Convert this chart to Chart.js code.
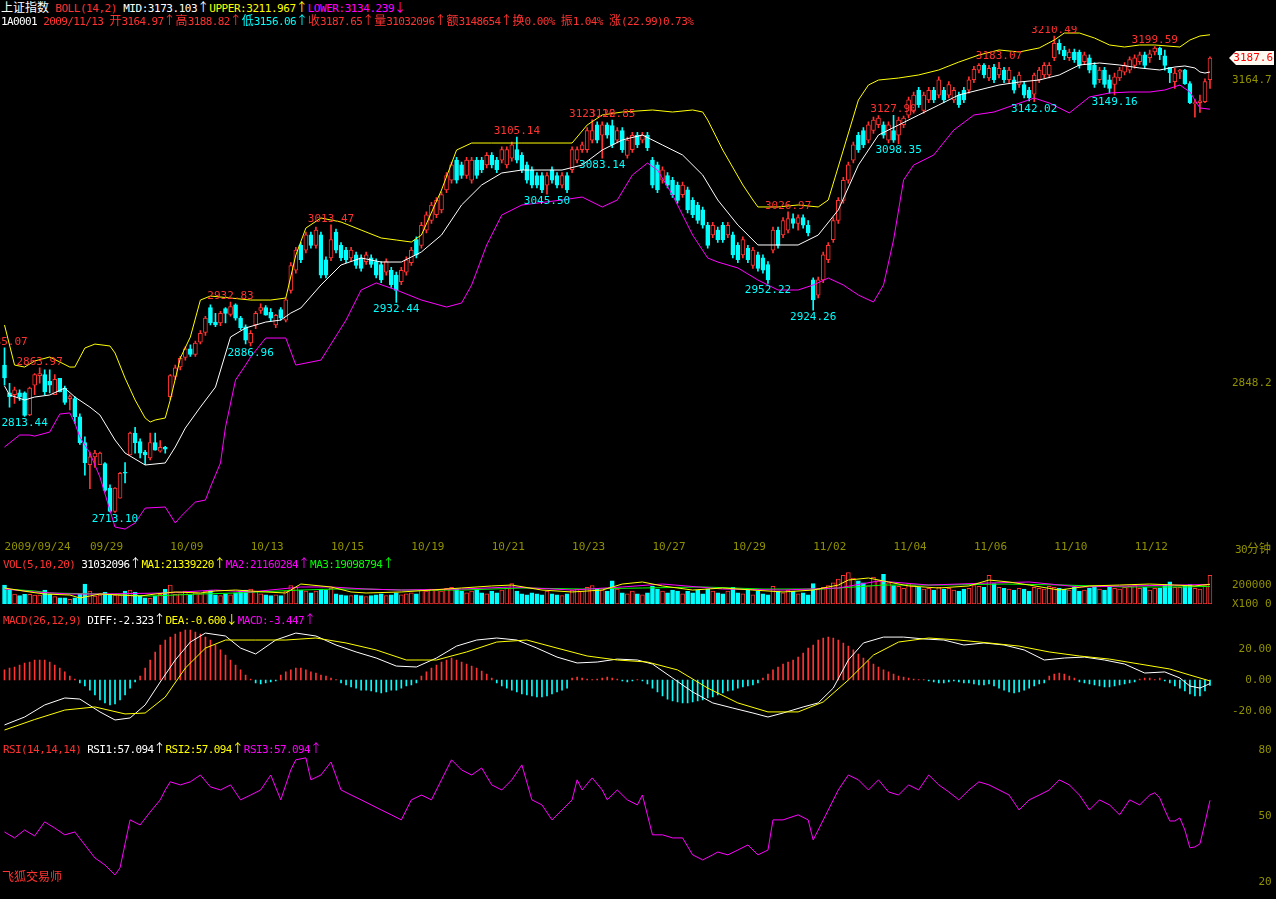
<!DOCTYPE html>
<html>
<head>
<meta charset="utf-8">
<title>上证指数 30分钟</title>
<script src="https://cdn.jsdelivr.net/npm/chart.js@4.4.1/dist/chart.umd.min.js"></script>
<style>
  html, body { margin: 0; padding: 0; background: #000; }
  body { position: relative; width: 1276px; height: 899px; overflow: hidden; }
  .pane { position: absolute; left: 0; width: 1276px; }
  .txt { position: absolute; font: 11px "DejaVu Sans Mono", monospace; letter-spacing: -0.6px; white-space: pre; line-height: 13px; z-index: 2; }
  .cn { font-family: "Noto Sans CJK SC", sans-serif; font-size: 12px; letter-spacing: 0; }
  .r { color: #ff3232; } .w { color: #fff; } .y { color: #ffff00; } .m { color: #ff00ff; }
  .c { color: #00ffff; } .g { color: #00ff00; } .o { color: #909000; }
</style>
</head>
<body>
<div class="pane" style="top:26px;height:530px"><canvas id="kline"></canvas></div>
<div class="pane" style="top:566px;height:44px"><canvas id="vol"></canvas></div>
<div class="pane" style="top:622px;height:118px"><canvas id="macd"></canvas></div>
<div class="pane" style="top:740px;height:159px"><canvas id="rsi"></canvas></div>

<div class="txt" style="left:1px;top:0px;letter-spacing:-0.45px"><span class="w cn">上证指数</span> <span class="r">BOLL(14,2)</span> <span class="w">MID:3173.103<span class="cn">↑</span></span><span class="y">UPPER:3211.967<span class="cn">↑</span></span><span class="m">LOWER:3134.239<span class="cn">↓</span></span></div>
<div class="txt" style="left:1px;top:13px"><span class="w">1A0001</span> <span class="r">2009/11/13 <span class="cn">开</span>3164.97<span class="cn">↑高</span>3188.82<span class="cn">↑</span></span><span class="c"><span class="cn">低</span>3156.06<span class="cn">↑</span></span><span class="r"><span class="cn">收</span>3187.65<span class="cn">↑量</span>31032096<span class="cn">↑额</span>3148654<span class="cn">↑换</span>0.00% <span class="cn">振</span>1.04% <span class="cn">涨</span>(22.99)0.73%</span></div>
<div class="txt o" style="left:1235px;top:541px">30<span class="cn">分钟</span></div>
<div class="txt" style="left:3px;top:556px"><span class="r">VOL(5,10,20)</span> <span class="w">31032096<span class="cn">↑</span></span><span class="y">MA1:21339220<span class="cn">↑</span></span><span class="m">MA2:21160284<span class="cn">↑</span></span><span class="g">MA3:19098794<span class="cn">↑</span></span></div>
<div class="txt" style="left:3px;top:612px"><span class="r">MACD(26,12,9)</span> <span class="w">DIFF:-2.323<span class="cn">↑</span></span><span class="y">DEA:-0.600<span class="cn">↓</span></span><span class="m">MACD:-3.447<span class="cn">↑</span></span></div>
<div class="txt" style="left:3px;top:741px"><span class="r">RSI(14,14,14)</span> <span class="w">RSI1:57.094<span class="cn">↑</span></span><span class="y">RSI2:57.094<span class="cn">↑</span></span><span class="m">RSI3:57.094<span class="cn">↑</span></span></div>
<div class="txt r cn" style="left:2px;top:869px">飞狐交易师</div>

<script>
// 30-minute bars, 2009/09/24 (last bar) .. 2009/11/13
const opens = [
  2867, 2838, 2836, 2838, 2838, 2815, 2846, 2856, 2857, 2850,
  2836, 2853, 2843, 2832, 2832, 2813, 2786, 2763, 2771, 2763,
  2764, 2738.5, 2714, 2728, 2755, 2773, 2796, 2787, 2776, 2770,
  2786, 2777, 2781, 2834, 2855, 2865, 2875, 2884, 2878, 2891,
  2901, 2927, 2912, 2911, 2926, 2920, 2930, 2916, 2907, 2890,
  2909, 2924, 2927, 2922, 2909, 2925, 2914, 2945, 2966, 2992,
  2987, 3003, 2992, 3003, 2977, 2979, 3006, 2992, 2987, 2979,
  2982, 2979, 2975, 2979, 2975, 2972, 2964, 2966, 2961, 2954,
  2964, 2974, 2998, 2992, 3008, 3018, 3024, 3029, 3050, 3060,
  3081, 3076, 3065, 3060, 3081, 3081, 3076, 3086, 3081, 3081,
  3076, 3083, 3092, 3086, 3076, 3071, 3065, 3065, 3055, 3071,
  3065, 3055, 3065, 3071, 3081, 3092, 3092, 3102, 3118, 3107,
  3118, 3117, 3102, 3112, 3086, 3092, 3107, 3102, 3107, 3081,
  3076, 3060, 3065, 3060, 3055, 3045, 3050, 3039, 3034, 3029,
  3013, 3003, 3008, 3013, 3003, 3003, 2992, 2982, 2989, 2971,
  2982, 2979, 2972, 2987, 3008, 3003, 3008, 3020, 3015, 3021,
  3013, 2956, 2940, 2956, 2977, 2998, 3018, 3039, 3060, 3081,
  3107, 3112, 3102, 3112, 3118, 3118, 3102, 3112, 3107, 3118,
  3128, 3133, 3154, 3133, 3144, 3154, 3149, 3154, 3149, 3144,
  3149, 3154, 3154, 3165, 3175, 3180, 3167, 3178, 3170, 3175,
  3165, 3165, 3160, 3160, 3154, 3150, 3165, 3170, 3170, 3188,
  3203, 3196, 3188, 3194, 3194, 3184, 3188, 3180, 3165, 3175,
  3165, 3160, 3167, 3173, 3175, 3180, 3184, 3191, 3188, 3194,
  3198, 3190, 3178, 3163, 3173, 3175, 3161, 3140, 3141, 3142, 3164.97
];
const highs = [
  2885.07, 2848, 2844, 2841, 2839, 2844, 2858, 2863.97, 2862, 2862,
  2857, 2853, 2845, 2836, 2834, 2816, 2792, 2776, 2778, 2776,
  2765, 2742, 2739, 2755, 2765, 2797, 2802, 2790, 2778, 2796,
  2796, 2788, 2782, 2857, 2867, 2876, 2886, 2888, 2892, 2903,
  2918, 2930, 2921, 2923, 2927, 2932.83, 2931, 2918, 2909, 2903,
  2923, 2931, 2929, 2926, 2920, 2927, 2937, 2974, 2990, 2995,
  3006, 3006, 3011, 3006, 2980, 3013.47, 3009, 2995, 2990, 2990,
  2985, 2982, 2985, 2982, 2978, 2975, 2978, 2969, 2964, 2969,
  2980, 2990, 3001, 3016, 3027, 3037, 3042, 3048, 3068, 3079,
  3084, 3079, 3084, 3084, 3084, 3084, 3089, 3089, 3084, 3095,
  3095, 3100, 3105.14, 3089, 3079, 3074, 3068, 3068, 3068, 3074,
  3068, 3068, 3068, 3095, 3095, 3100, 3115, 3123.16, 3121, 3121,
  3120, 3122.85, 3115, 3115, 3105, 3110, 3110, 3110, 3110, 3084,
  3079, 3074, 3068, 3063, 3058, 3058, 3053, 3042, 3037, 3032,
  3016, 3016, 3011, 3016, 3016, 3006, 2995, 3001, 2992, 2990,
  2985, 2982, 2975, 3011, 3011, 3021, 3026.97, 3025, 3024, 3024,
  3018, 2958, 2959, 2985, 2995, 3021, 3042, 3063, 3079, 3100,
  3110, 3115, 3121, 3126, 3127.5, 3121, 3121, 3127.9, 3126, 3127,
  3147, 3152, 3157, 3152, 3157, 3157, 3168, 3157, 3163, 3157,
  3152, 3157, 3168, 3179, 3182, 3182, 3180, 3181, 3183.07, 3178,
  3178, 3168, 3173, 3163, 3157, 3172, 3178, 3183, 3183, 3210.49,
  3207, 3200, 3197, 3197, 3196, 3194, 3191, 3183, 3178, 3178,
  3170, 3172, 3178, 3183, 3189, 3191, 3194, 3194, 3196, 3199.59,
  3199, 3196, 3178, 3177, 3176, 3176, 3163, 3144, 3149, 3166, 3188.82
];
const lows = [
  2846, 2823, 2827, 2830, 2813.44, 2814, 2836, 2848, 2836, 2838,
  2836, 2839, 2826, 2820, 2806, 2784, 2752, 2738, 2760, 2763,
  2735, 2713.5, 2713.10, 2728, 2744, 2773, 2775, 2770, 2763, 2768,
  2778, 2776, 2775, 2831, 2852, 2862, 2872, 2876, 2876, 2889,
  2898, 2909, 2907, 2908, 2911, 2918, 2914, 2904, 2889, 2886.96,
  2905, 2921, 2919, 2913, 2906, 2914, 2912, 2942, 2963, 2974,
  2984, 2989, 2989, 2958, 2958, 2976, 2984, 2976, 2974, 2976,
  2968, 2965, 2972, 2969, 2958, 2953, 2961, 2948, 2932.44, 2951,
  2961, 2971, 2979, 2989, 3005, 3015, 3021, 3026, 3047, 3057,
  3057, 3062, 3062, 3057, 3062, 3068, 3073, 3073, 3068, 3078,
  3073, 3080, 3078, 3068, 3057, 3052, 3052, 3047, 3045.50, 3057,
  3052, 3052, 3047, 3068, 3078, 3089, 3089, 3099, 3099, 3083.14,
  3104, 3094, 3099, 3089, 3083, 3089, 3094, 3099, 3091, 3052,
  3047, 3057, 3052, 3042, 3036, 3042, 3026, 3021, 3015, 3010,
  2989, 3000, 2995, 2995, 3000, 2979, 2974, 2979, 2974, 2968,
  2965, 2963, 2952.22, 2984, 2989, 3000, 3005, 3010, 3008, 3010,
  3002, 2924.26, 2937, 2953, 2974, 2995, 3015, 3036, 3057, 3078,
  3089, 3094, 3099, 3109, 3115, 3104, 3099, 3099.5, 3098.35, 3115,
  3125, 3130, 3136, 3130, 3141, 3141, 3146, 3141, 3146, 3141,
  3136, 3141, 3151, 3162, 3172, 3167, 3164, 3162, 3167, 3162,
  3162, 3151, 3157, 3146, 3143, 3142.02, 3162, 3167, 3167, 3185,
  3192, 3186, 3185, 3183, 3177, 3181, 3172, 3157, 3162, 3157,
  3151, 3149.16, 3164, 3170, 3172, 3177, 3181, 3177, 3183, 3191,
  3186, 3175, 3162, 3156, 3166, 3160, 3140, 3126, 3131, 3141, 3156.06
];
const closes = [
  2853.5, 2834, 2841, 2834, 2814.5, 2843, 2857, 2858, 2839, 2846,
  2852, 2839, 2828, 2834, 2813, 2786, 2765, 2771, 2775, 2775,
  2736, 2714, 2738.5, 2754, 2754, 2796, 2786, 2775, 2773, 2786,
  2778, 2781, 2779, 2856, 2864, 2874, 2884, 2878, 2890, 2900,
  2916, 2911, 2909, 2921, 2921, 2928, 2916, 2906, 2893, 2900,
  2921, 2927, 2919, 2916, 2919, 2916, 2935, 2971, 2987, 2977,
  3003, 2992, 3008, 2961, 2961, 2998, 2987, 2979, 2977, 2987,
  2971, 2968, 2982, 2972, 2961, 2956, 2975, 2951, 2945, 2966,
  2977, 2987, 2982, 3013, 3024, 3034, 3039, 3045, 3065, 3076,
  3060, 3065, 3081, 3081, 3065, 3071, 3086, 3076, 3071, 3092,
  3092, 3097, 3081, 3071, 3060, 3055, 3055, 3050, 3065, 3060,
  3055, 3065, 3050, 3092, 3092, 3097, 3112, 3112, 3102, 3118,
  3107, 3097, 3112, 3092, 3102, 3107, 3097, 3107, 3094, 3055,
  3050, 3071, 3055, 3045, 3039, 3055, 3029, 3024, 3018, 3013,
  2992, 3013, 2998, 2998, 3013, 2982, 2977, 2998, 2977, 2987,
  2968, 2966, 2956, 3008, 2992, 3018, 3020, 3015, 3021, 3013,
  3005, 2935, 2956, 2982, 2992, 3018, 3039, 3060, 3076, 3097,
  3092, 3097, 3118, 3123, 3125, 3107, 3118, 3102, 3123, 3125,
  3144, 3149, 3139, 3149, 3154, 3144, 3165, 3144, 3160, 3154,
  3139, 3144, 3165, 3176, 3180, 3170, 3177, 3165, 3177, 3165,
  3175, 3154, 3170, 3149, 3146, 3170, 3175, 3180, 3180, 3203,
  3196, 3190, 3194, 3186, 3180, 3191, 3175, 3160, 3175, 3160,
  3156, 3168, 3175, 3180, 3186, 3188, 3191, 3180, 3192, 3198,
  3191, 3180, 3172, 3172, 3175, 3161, 3141, 3141, 3143, 3163, 3187.65
];
// volume, millions of shares
const volumes = [
  20.5, 15.9, 10.8, 9.0, 10.5, 10.5, 9.7, 9.7, 15.1, 10.5,
  7.9, 6.8, 6.8, 5.1, 6.8, 10.5, 21.6, 14.1, 8.6, 9.7,
  12.6, 10.5, 9.7, 9.7, 14.1, 15.1, 12.6, 9.0, 6.8, 6.2,
  8.6, 10.5, 15.9, 20.5, 10.5, 11, 14, 10, 12, 11,
  14, 15, 10, 9, 11, 10, 12, 14, 15, 16,
  14, 11, 10, 9, 10, 9, 14, 20, 18, 15,
  14, 12, 14, 16, 15, 17, 11, 10, 9, 9,
  10, 9, 8, 9, 10, 11, 9, 10, 12, 10,
  11, 12, 11, 15, 14, 16, 15, 14, 17, 18,
  16, 14, 12, 14, 15, 12, 11, 14, 12, 15,
  17, 22, 14, 11, 10, 12, 11, 10, 14, 11,
  10, 9, 11, 15, 16, 14, 18, 20, 17, 15,
  14, 25, 16, 12, 11, 14, 11, 10, 12, 19,
  16, 14, 12, 15, 14, 11, 14, 12, 15, 11,
  16, 14, 12, 11, 14, 18, 12, 11, 15, 10,
  14, 11, 10, 19, 14, 12, 15, 14, 11, 12,
  10, 22, 16, 18, 20, 23, 27, 31, 34, 28,
  25, 23, 20, 29, 25, 32, 23, 20, 19, 17,
  22, 20, 18, 16, 17, 15, 18, 16, 17, 15,
  14, 16, 17, 20, 19, 18, 31, 22, 18, 17,
  16, 15, 17, 16, 14, 18, 17, 16, 19, 18,
  17, 16, 15, 18, 14, 15, 17, 19, 16, 15,
  18, 17, 16, 18, 19, 20, 17, 18, 15, 17,
  17, 21, 24, 18, 18, 20, 21, 17, 16, 20, 31.03
];
const macdBars = [
  6.5, 7.7, 8.4, 9.7, 11.0, 11.6, 12.9, 12.9, 12.9, 11.6, 9.7, 7.7, 5.2, 2.6, 0.6,
  -1.9, -3.9, -6.5, -9.7, -12.9, -14.8, -16.1, -15.5, -12.9, -9.7, -5.2, -1.3,
  2.6, 7.7, 12.9, 18.1, 22.6, 25.8, 27.7, 29.7, 31.0, 32.3, 32.3, 31.0, 29.7, 27.7, 25.8, 22.6, 19.4, 16.1, 12.9, 9.7, 6.5, 3.2, 0.6,
  -1.9, -2.6, -1.9, -1.3, -0.6,
  3.2, 5.2, 6.5, 7.7, 7.7, 6.5, 5.2, 4.5, 3.2, 2.6, 1.3, 0.3,
  -1.9, -3.2, -4.5, -5.2, -6.5, -6.5, -7.1, -7.7, -8.4, -7.7, -6.5, -6.5, -5.2, -3.9, -3.2, -1.9,
  2.6, 5.2, 7.7, 9.7, 11.6, 12.9, 14.2, 12.9, 11.6, 10.3, 9.0, 7.7, 5.8, 3.9, 1.3,
  -1.9, -3.9, -5.2, -6.5, -7.7, -9.0, -9.7, -10.3, -11.0, -11.0, -10.3, -9.0, -7.7, -6.5, -5.2,
  1.3, 1.9, 1.3, 0.6, 0.3, 0.6, 1.3, 1.9, 1.3, 0.6, -0.6, -1.3, -0.6, 0.3, -0.6,
  -2.6, -5.2, -7.7, -10.3, -12.3, -13.5, -14.2, -14.8, -14.8, -14.2, -13.5, -12.9, -11.6, -11.0, -9.7, -8.4, -7.1, -6.5, -5.2, -4.5, -3.9, -3.2, -1.9,
  1.3, 3.9, 6.5, 8.4, 10.3, 11.6, 12.9, 14.8, 17.4, 20.6, 22.6, 25.8, 27.1, 27.7, 27.1, 25.8, 23.9, 21.9, 19.4, 16.8, 14.2, 12.3, 10.3, 8.4, 6.5, 5.2, 3.9, 2.6, 1.9, 1.3, 0.6, 0.3, 0.3,
  -0.6, -1.3, -1.9, -1.9, -1.3, -0.6, -1.3, -1.9, -1.9, -2.6, -3.2, -3.2, -2.6,
  -3.9, -5.2, -6.5, -7.7, -8.4, -7.7, -6.5, -5.2, -3.9, -2.6, -1.9,
  2.6, 3.9, 4.5, 3.9, 2.6, 1.3,
  -1.3, -1.9, -2.6, -3.2, -3.9, -4.5, -4.5, -3.9, -3.2, -2.6, -1.9, -1.3,
  0.6, 1.3, 1.3, 0.3, 1.3,
  -0.6, -1.9, -3.9, -5.2, -7.1, -9.0, -10.3, -10.3, -7.1, -3.447
];

// indicator lines, read at the bars listed in the *Idx arrays
const upperIdx = [0,2,4,6,9,11,13,14,16,18,21,22,24,26,28,29,30,32,33,35,37,39,41,45,49,53,56,58,60,63,67,71,75,78,81,83,87,90,93,97,103,109,113,116,119,123,129,133,137,139,140,143,147,149,150,154,158,162,164,167,170,172,174,178,182,186,190,194,198,202,206,209,211,214,217,220,223,226,229,234,236,238,240];
const upperVals = [2908.8,2867.0,2864.9,2871.2,2875.4,2870.2,2864.9,2864.9,2884.8,2888.9,2886.9,2879.6,2853.4,2830.5,2811.7,2807.5,2809.6,2811.7,2830.5,2874.3,2896.3,2934.9,2939.1,2937.0,2934.9,2934.9,2937.0,2981.9,3010.1,3020.6,3016.4,3008.0,2999.7,2997.6,2995.5,3002.8,3049.8,3091.6,3098.9,3098.9,3098.9,3098.9,3098.9,3117.7,3128.2,3131.3,3133.4,3131.3,3133.4,3131.3,3122.9,3091.6,3055.1,3039.4,3032.1,3032.1,3034.2,3032.1,3039.4,3091.6,3143.8,3159.5,3164.7,3166.8,3170.0,3175.2,3183.5,3190.8,3196.1,3194.0,3198.2,3206.5,3213.8,3213.8,3208.6,3201.3,3199.2,3201.3,3201.3,3199.2,3206.5,3210.7,3211.967];
const midIdx = [0,1,4,6,9,12,14,17,19,22,24,28,32,34,36,39,42,45,48,52,55,57,59,63,67,71,75,79,83,87,91,95,99,103,107,111,115,119,123,127,131,135,139,142,146,150,154,158,162,166,170,174,178,182,186,190,194,198,202,206,210,214,218,222,226,230,233,235,237,238,239,240];
const midVals = [2845.1,2835.7,2830.5,2833.6,2835.7,2843.0,2833.6,2823.1,2814.8,2788.7,2775.1,2762.6,2764.7,2781.4,2801.2,2823.1,2844.0,2896.3,2905.7,2911.9,2914.0,2921.3,2926.6,2950.6,2971.5,2978.8,2974.6,2974.6,2985.1,3002.8,3034.2,3055.1,3067.6,3070.7,3070.7,3070.7,3075.9,3091.6,3102.1,3107.3,3096.8,3086.4,3065.5,3039.4,3013.3,2992.4,2992.4,2992.4,3002.8,3029.0,3075.9,3107.3,3117.7,3128.2,3138.6,3149.1,3154.3,3159.5,3162.6,3164.7,3170.0,3180.4,3182.5,3180.4,3177.3,3175.2,3178.3,3179.4,3177.3,3173.1,3172.0,3173.103];
const lowerIdx = [0,3,5,6,9,11,13,14,15,17,19,22,24,26,28,32,34,35,38,40,41,43,44,46,48,49,52,56,58,63,68,71,74,78,83,88,91,93,96,99,103,111,115,119,122,125,128,130,133,137,140,142,146,150,154,158,161,164,167,170,173,175,177,179,181,185,189,193,197,201,205,208,212,216,220,224,228,231,234,236,238,240];
const lowerVals = [2781.4,2793.9,2793.9,2792.8,2797.0,2815.8,2817.0,2806.4,2791.8,2775.1,2750.0,2697.8,2695.7,2702.0,2717.6,2718.7,2702.0,2708.2,2723.9,2726.0,2739.6,2764.7,2802.3,2851.4,2867.0,2875.4,2895.2,2895.2,2867.0,2872.2,2914.0,2945.4,2952.7,2945.4,2934.9,2927.6,2931.8,2950.6,2992.4,3023.7,3034.2,3039.4,3042.5,3032.1,3039.4,3065.5,3078.0,3070.7,3044.6,3002.8,2978.8,2974.6,2968.4,2955.8,2945.4,2945.4,2950.6,2957.9,2950.6,2940.1,2932.8,2950.6,2997.6,3060.3,3075.9,3086.4,3112.5,3128.2,3131.3,3138.6,3145.9,3140.7,3130.3,3147.0,3151.2,3152.2,3152.2,3154.3,3159.5,3152.2,3135.5,3134.239];

const ma1Idx = [0,5,8,13,15,19,27,30,34,39,42,46,52,56,58,59,65,69,72,79,85,91,97,101,107,113,119,123,127,131,137,143,149,155,161,166,168,172,176,180,186,192,196,200,204,210,216,222,228,233,237,240];
const ma1Vals = [17.3,13.0,10.8,9.7,6.5,10.8,8.6,10.8,13.0,11.9,14.1,15.1,13.0,11.9,18.4,21.6,18.4,13.0,11.9,13.0,15.1,17.3,19.5,20.5,15.1,13.0,15.1,21.6,23.8,19.5,15.1,17.3,15.1,13.0,15.1,20.5,25.9,28.1,23.8,19.5,17.3,19.5,25.9,23.8,20.5,15.1,19.5,20.5,21.6,20.5,19.5,21.34];
const ma2Idx = [0,6,13,19,32,42,49,59,65,72,79,91,101,113,123,131,143,155,166,174,184,196,204,214,224,234,240];
const ma2Vals = [16.2,13.0,10.8,10.8,11.9,15.1,13.0,18.4,18.4,16.2,15.1,16.2,18.4,15.1,18.4,21.6,16.2,15.1,17.3,24.9,20.5,22.7,23.8,18.4,19.5,20.5,21.16];
const ma3Idx = [0,6,9,19,29,39,46,59,66,72,79,91,103,115,127,139,151,163,175,187,199,211,223,235,240];
const ma3Vals = [16.2,14.1,11.9,10.8,8.6,10.8,11.9,15.1,16.2,16.2,15.1,15.1,17.3,16.2,17.3,18.4,16.2,16.2,20.5,20.5,21.6,20.5,18.4,18.4,19.10];

const diffIdx = [0,4,8,12,15,19,22,25,28,31,34,37,40,44,47,50,54,58,62,66,70,74,78,82,86,90,94,98,102,106,110,114,118,122,126,129,133,137,141,145,149,152,155,159,162,165,168,171,175,179,183,187,191,195,199,203,207,211,215,219,223,227,231,234,236,238,240];
const diffVals = [-29.0,-23.9,-16.1,-11.6,-12.3,-20.6,-25.8,-24.5,-16.1,-1.3,12.9,24.5,30.3,28.4,20.6,16.8,25.8,30.3,28.4,22.6,18.1,14.2,9.0,8.4,14.2,21.9,25.8,27.1,25.8,20.6,14.8,11.0,11.6,13.5,12.9,10.3,1.3,-7.7,-14.8,-18.1,-21.3,-23.9,-21.3,-17.4,-14.8,-5.2,12.9,23.9,27.7,27.7,26.5,25.8,22.6,23.9,22.6,19.4,12.9,14.2,14.8,12.9,10.3,4.5,5.2,1.3,-3.9,-5.2,-2.323];
const deaIdx = [0,6,12,18,24,28,32,36,40,44,50,56,62,68,74,80,86,92,98,104,110,116,122,128,134,140,146,152,158,163,168,173,178,184,190,196,202,208,214,220,226,232,236,240];
const deaVals = [-32.3,-25.5,-19.4,-17.4,-21.9,-21.3,-11.0,7.7,20.6,25.8,25.8,25.8,27.1,23.9,19.4,12.9,12.9,18.1,24.5,25.8,20.6,15.5,12.9,11.6,6.5,-5.2,-14.8,-20.6,-20.6,-14.2,0,16.1,24.5,27.1,25.8,23.9,21.9,18.1,15.5,13.5,10.3,7.1,3.2,-0.600];

const rsiIdx = [0,2,4,6,8,10,12,14,16,18,20,22,23,25,27,29,31,32,33,35,37,39,41,43,45,47,49,51,53,55,57,58,60,61,63,65,67,69,71,73,75,77,79,81,83,85,87,89,91,93,95,97,99,101,103,105,107,109,111,113,114,115,117,119,120,122,124,126,127,129,131,133,135,137,139,141,142,144,146,148,150,152,153,155,158,160,161,162,164,166,168,170,172,174,176,178,180,182,184,186,188,190,192,194,196,198,200,202,204,206,208,210,212,214,216,218,220,222,224,226,228,229,230,231,232,233,234,235,236,237,238,239,240];
const rsiVals = [42.7,40.0,43.6,40.9,47.3,44.5,41.4,42.7,36.8,30.9,27.7,23.2,26.4,48.2,45.9,51.8,57.3,61.8,65.5,64.1,65.5,68.6,63.2,61.8,64.1,57.3,59.5,61.8,68.6,57.3,70.9,75.5,76.4,66.4,68.6,74.5,61.8,59.5,57.3,55.0,52.7,50.5,48.2,57.3,59.5,57.3,66.4,75.5,70.9,68.6,71.8,64.1,61.8,66.4,73.2,57.3,55.0,48.2,52.7,57.3,66.4,61.8,67.3,61.8,57.3,61.8,57.3,55.0,59.5,41.4,41.4,40.0,40.0,32.3,30.0,32.3,33.6,32.3,34.5,36.8,32.3,34.5,48.2,48.2,50.5,48.2,39.1,43.6,52.7,61.8,68.6,66.4,61.8,66.4,60.9,59.5,64.1,61.8,68.6,64.1,60.9,57.3,61.8,65.5,64.1,61.8,59.5,52.7,57.3,59.5,61.8,66.4,64.1,59.5,52.7,57.3,55.0,50.5,57.3,55.0,59.5,60.5,58.2,52.7,47.7,47.7,49.1,43.6,35.5,35.9,37.3,46.8,57.094];

// marked extremes
const peakBars = [0, 7, 45, 65, 102, 117, 121, 156, 177, 198, 209, 229];
const troughBars = [4, 22, 49, 78, 108, 119, 152, 161, 178, 205, 221];

// x axis
const dayStarts = [0, 17, 33, 49, 65, 81, 97, 113, 129, 145, 161, 177, 193, 209, 225];
const dayLabels = ['2009/09/24','09/29','10/09','10/13','10/15','10/19','10/21','10/23','10/27','10/29','11/02','11/04','11/06','11/10','11/12'];

const RED = '#ff3232';
const CYAN = '#00ffff';
const OLIVE = '#909000';
const FONT = '"DejaVu Sans Mono", monospace';

const N = closes.length;
const labels = closes.map((_, i) => i);
const isUp = closes.map((c, i) => c >= opens[i]);

function spread(idx, vals) {
  const out = new Array(N).fill(null);
  idx.forEach((k, j) => { out[k] = vals[j]; });
  return out;
}

Chart.defaults.font.family = FONT;
Chart.defaults.font.size = 11;
Chart.defaults.color = OLIVE;
Chart.defaults.animation = false;
Chart.defaults.plugins.legend.display = false;
Chart.defaults.plugins.tooltip.enabled = false;

function yAxis(min, max, tickVals, fmt, gap) {
  return {
    position: 'right', min: min, max: max,
    grid: { display: false, drawTicks: true, tickLength: gap },
    border: { display: false },
    afterFit: s => { s.width = 63.5; s.paddingTop = 0; s.paddingBottom = 0; },
    afterBuildTicks: s => { s.ticks = tickVals.map(v => ({ value: v })); },
    ticks: { padding: 0, crossAlign: 'near', autoSkip: false, color: OLIVE, callback: fmt }
  };
}

function hiddenX() {
  return { type: 'category', offset: true, display: false };
}

function line(data, color) {
  return {
    type: 'line', data: data, borderColor: color, borderWidth: 1,
    pointRadius: 0, spanGaps: true, tension: 0, order: 0
  };
}

// high / low price marks and the last price tag
const markPlugin = {
  id: 'marks',
  afterDatasetsDraw(chart) {
    const ctx = chart.ctx, xs = chart.scales.x, ys = chart.scales.y;
    ctx.save();
    ctx.font = '11px ' + FONT;
    ctx.textAlign = 'center';
    ctx.textBaseline = 'middle';
    ctx.fillStyle = RED;
    peakBars.forEach(k => {
      ctx.fillText(highs[k].toFixed(2), xs.getPixelForValue(k), ys.getPixelForValue(highs[k]) - 6);
    });
    ctx.fillStyle = CYAN;
    troughBars.forEach(k => {
      ctx.fillText(lows[k].toFixed(2), xs.getPixelForValue(k), ys.getPixelForValue(lows[k]) + 7);
    });

    const last = closes[N - 1];
    const y = ys.getPixelForValue(last);
    ctx.fillStyle = '#fffaf0';
    ctx.beginPath();
    ctx.moveTo(1229, y);
    ctx.lineTo(1236, y - 7);
    ctx.lineTo(1274, y - 7);
    ctx.lineTo(1274, y + 7);
    ctx.lineTo(1236, y + 7);
    ctx.closePath();
    ctx.fill();
    ctx.fillStyle = '#ff0000';
    ctx.textAlign = 'right';
    ctx.fillText((Math.floor(last * 10) / 10).toFixed(1), 1273, y);
    ctx.restore();
  }
};

// price panel: candles + BOLL
new Chart(document.getElementById('kline'), {
  data: {
    labels: labels,
    datasets: [
      line(spread(upperIdx, upperVals), '#ffff00'),
      line(spread(midIdx, midVals), '#ffffff'),
      line(spread(lowerIdx, lowerVals), '#ff00ff'),
      {
        type: 'bar', order: 1, grouped: false,
        data: opens.map((o, i) => [o, closes[i]]),
        backgroundColor: isUp.map(u => u ? '#000' : CYAN),
        borderColor: isUp.map(u => u ? RED : CYAN),
        borderWidth: 1, borderSkipped: false, barThickness: 4, minBarLength: 1
      },
      {
        type: 'bar', order: 2, grouped: false,
        data: lows.map((l, i) => [l, highs[i]]),
        backgroundColor: isUp.map(u => u ? RED : CYAN),
        barThickness: 1
      }
    ]
  },
  options: {
    responsive: true, maintainAspectRatio: false,
    layout: { padding: { left: 2, right: 0, top: 2, bottom: 0 } },
    scales: {
      x: {
        type: 'category', offset: true,
        grid: { display: false, drawTicks: false },
        border: { display: false },
        afterFit: s => { s.height = 26; s.paddingLeft = 0; s.paddingRight = 0; },
        afterBuildTicks: s => { s.ticks = dayStarts.map(v => ({ value: v })); },
        ticks: {
          autoSkip: false, maxRotation: 0, align: 'start', padding: 11, color: OLIVE,
          callback: v => dayLabels[dayStarts.indexOf(v)]
        }
      },
      y: yAxis(2694.7, 3219.05, [2848.2, 3164.7], v => v.toFixed(1), 19.5)
    }
  },
  plugins: [markPlugin]
});

// volume panel
new Chart(document.getElementById('vol'), {
  data: {
    labels: labels,
    datasets: [
      line(spread(ma1Idx, ma1Vals), '#ffff00'),
      line(spread(ma2Idx, ma2Vals), '#ff00ff'),
      line(spread(ma3Idx, ma3Vals), '#00ff00'),
      {
        type: 'bar', order: 1, data: volumes,
        backgroundColor: isUp.map(u => u ? '#000' : CYAN),
        borderColor: isUp.map(u => u ? RED : CYAN),
        borderWidth: 1, borderSkipped: false, barThickness: 4
      }
    ]
  },
  options: {
    responsive: true, maintainAspectRatio: false,
    layout: { padding: { left: 2, right: 0, top: 3, bottom: 6 } },
    scales: {
      x: hiddenX(),
      y: yAxis(0, 37.84, [0, 20], v => v === 0 ? 'X100 0' : String(Math.round(v * 1e4)), 19.5)
    }
  }
});

// MACD panel
new Chart(document.getElementById('macd'), {
  data: {
    labels: labels,
    datasets: [
      line(spread(deaIdx, deaVals), '#ffff00'),
      line(spread(diffIdx, diffVals), '#ffffff'),
      {
        type: 'bar', order: 1, data: macdBars,
        backgroundColor: macdBars.map(v => v >= 0 ? RED : CYAN),
        barThickness: 1
      }
    ]
  },
  options: {
    responsive: true, maintainAspectRatio: false,
    layout: { padding: { left: 2, right: 0, top: 3, bottom: 5 } },
    scales: {
      x: hiddenX(),
      y: yAxis(-35.5, 35.5, [-20, 0, 20], v => (v < 0 ? '' : ' ') + v.toFixed(2).padStart(5, ' '), 19.5)
    }
  }
});

// RSI panel
new Chart(document.getElementById('rsi'), {
  data: {
    labels: labels,
    datasets: [ line(spread(rsiIdx, rsiVals), '#ff00ff') ]
  },
  options: {
    responsive: true, maintainAspectRatio: false,
    layout: { padding: { left: 2, right: 0, top: 2, bottom: 3 } },
    scales: {
      x: hiddenX(),
      y: yAxis(13.6, 83.6, [20, 50, 80], v => String(v), 46)
    }
  }
});
</script>
</body>
</html>
